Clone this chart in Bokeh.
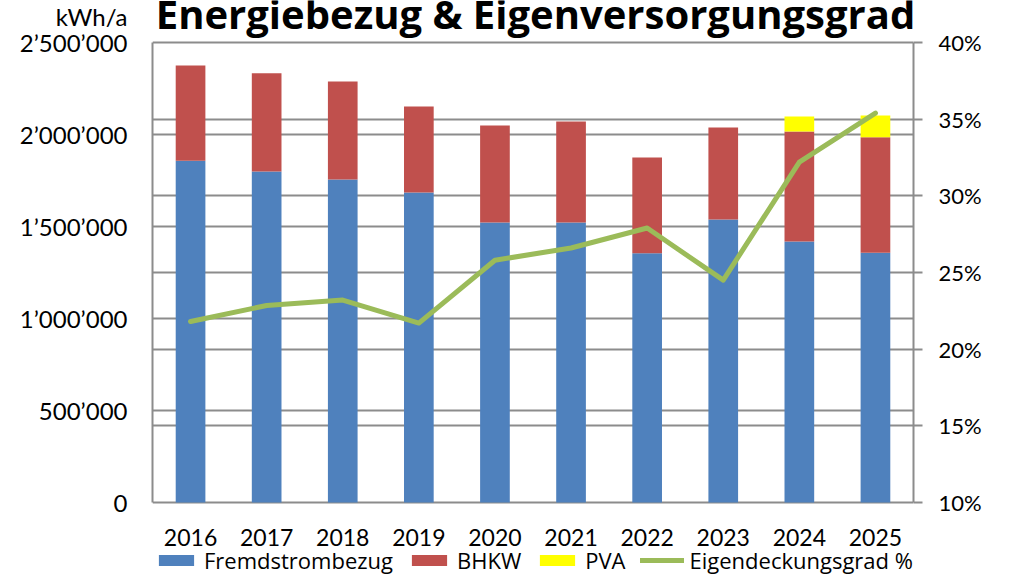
from bokeh.plotting import figure
from bokeh.models import (ColumnDataSource, FactorRange, Range1d, LinearAxis, FixedTicker,
                          CustomJSTickFormatter, NumeralTickFormatter, Legend, LegendItem, Label)
from bokeh.core.properties import value
from bokeh.embed import file_html
from bokeh.resources import INLINE

years = ["2016", "2017", "2018", "2019", "2020", "2021", "2022", "2023", "2024", "2025"]
fremdstrom = [1858000, 1799000, 1755000, 1685000, 1522000, 1522000, 1355000, 1538000, 1418000, 1357000]
bhkw = [517000, 534000, 533000, 467000, 527000, 549000, 520000, 500000, 598000, 628000]
pva = [0, 0, 0, 0, 0, 0, 0, 0, 82000, 118000]
eigendeckung = [0.218, 0.2285, 0.232, 0.217, 0.258, 0.266, 0.279, 0.245, 0.322, 0.354]

left_ticks = [0, 500000, 1000000, 1500000, 2000000, 2500000]
right_ticks = [0.10, 0.15, 0.20, 0.25, 0.30, 0.35, 0.40]

title_text = "Energiebezug & Eigenversorgungsgrad"
unit_text = "kWh/a"

FONT = "Lato"
GRID = "#8c8c8c"
W, H = 1009, 577
FRAME_L, FRAME_R = 152, 913      # plot-area edges in pixels
AXIS_TOP, AXIS_BOTTOM = 42, 502  # pixel rows of the top / zero lines

L_MAX = left_ticks[-1]
R_MIN, R_MAX = right_ticks[0], right_ticks[-1]
span = AXIS_BOTTOM - AXIS_TOP
px_per_cat = (FRAME_R - FRAME_L) / len(years)
val_per_px = L_MAX / span

def left_val(py):          # left-scale value at a pixel row
    return (AXIS_BOTTOM - py) * val_per_px

def right_val(py):
    return R_MIN + (AXIS_BOTTOM - py) / span * (R_MAX - R_MIN)

source = ColumnDataSource(dict(year=years, fremd=fremdstrom, bhkw=bhkw, pva=pva, pct=eigendeckung))

# the plot area covers the full canvas height, so that title, year labels and legend
# (drawn inside it) are not cut away; the axes are bounded to the value ranges
p = figure(x_range=FactorRange(*years, range_padding=0), y_range=Range1d(left_val(H), left_val(0)),
           width=W, height=H, output_backend="svg", toolbar_location=None, title=None,
           x_axis_location=None, y_axis_location=None,
           min_border_left=FRAME_L, min_border_right=W - FRAME_R, min_border_top=0,
           min_border_bottom=0)
p.extra_y_ranges = {"pct": Range1d(right_val(H), right_val(0))}
p.outline_line_color = None
p.background_fill_color = "white"
p.border_fill_color = "white"

colors = ["#4F81BD", "#C0504D", "#FFFF00"]
bars = p.vbar_stack(["fremd", "bhkw", "pva"], x="year", width=0.39, color=colors,
                    line_color=None, source=source)
line = p.line(x="year", y="pct", source=source, y_range_name="pct",
              line_color="#9BBB59", line_width=5, line_join="round", line_cap="round")

# horizontal grid lines at both axes' tick positions (the zero line is the category axis line)
right_grid = [(t - R_MIN) / (R_MAX - R_MIN) * L_MAX for t in right_ticks]
p.xgrid.visible = False
p.ygrid.ticker = FixedTicker(ticks=sorted(set(left_ticks + right_grid)))
p.ygrid.grid_line_color = GRID
p.ygrid.grid_line_width = 2

# category labels under the zero line
p.text(x="year", y=left_val(536.5), text="year", source=source,
       text_font=value(FONT), text_font_size="23px", text_color="black",
       text_align="center", text_baseline="middle")

# inner left axis: only the axis line, limited to the value range
line_axis = LinearAxis(bounds=(0, L_MAX), ticker=FixedTicker(ticks=[]))
line_axis.axis_line_color = GRID
line_axis.axis_line_width = 2
line_axis.major_tick_line_color = None
line_axis.minor_tick_line_color = None
line_axis.major_tick_out = 0
line_axis.major_tick_in = 0
line_axis.major_label_standoff = 0
p.add_layout(line_axis, "left")

# outer left axis: tick labels + unit label on top
unit_tick = round(left_val(16.5), -4)
ya = LinearAxis(ticker=FixedTicker(ticks=left_ticks + [unit_tick]))
ya.formatter = CustomJSTickFormatter(args=dict(unit=unit_text, top=L_MAX), code="""
    if (tick > top) return unit;
    return Math.round(tick).toString().replace(/\\B(?=(\\d{3})+(?!\\d))/g, "\u2019");
""")
ya.axis_line_color = None
ya.major_tick_line_color = None
ya.minor_tick_line_color = None
ya.major_tick_out = 0
ya.major_tick_in = 0
ya.major_label_text_font = FONT
ya.major_label_text_font_size = "24px"
ya.major_label_text_color = "black"
ya.major_label_standoff = 25
p.add_layout(ya, "left")

# right axis
ra = LinearAxis(y_range_name="pct", bounds=(R_MIN, R_MAX), ticker=FixedTicker(ticks=right_ticks),
                formatter=NumeralTickFormatter(format="0%"))
ra.axis_line_color = GRID
ra.axis_line_width = 2
ra.major_tick_line_color = GRID
ra.major_tick_line_width = 2
ra.major_tick_out = 9
ra.major_tick_in = 0
ra.minor_tick_line_color = None
ra.major_label_text_font = FONT
ra.major_label_text_font_size = "22px"
ra.major_label_text_color = "black"
ra.major_label_standoff = 16
p.add_layout(ra, "right")

# title, cut at the canvas top like the original
p.add_layout(Label(x=(535 - FRAME_L) / px_per_cat, y=left_val(13),
                   text=title_text, text_align="center", text_baseline="alphabetic",
                   text_font="Open Sans", text_font_style="bold", text_font_size="40px",
                   text_color="black"))

legend = Legend(items=[LegendItem(label="Fremdstrombezug", renderers=[bars[0]]),
                       LegendItem(label="BHKW", renderers=[bars[1]]),
                       LegendItem(label="PVA", renderers=[bars[2]]),
                       LegendItem(label="Eigendeckungsgrad %", renderers=[line])],
                orientation="horizontal", location=(2, 2))
legend.label_text_font = "Open Sans"
legend.label_text_font_size = "22px"
legend.label_text_color = "black"
legend.glyph_width = 44
legend.glyph_height = 14
legend.label_standoff = 6
legend.spacing = 14
legend.padding = 0
legend.margin = 0
legend.border_line_color = None
legend.background_fill_alpha = 0
p.add_layout(legend, "center")

open("out.html", "w").write(file_html(p, INLINE))
